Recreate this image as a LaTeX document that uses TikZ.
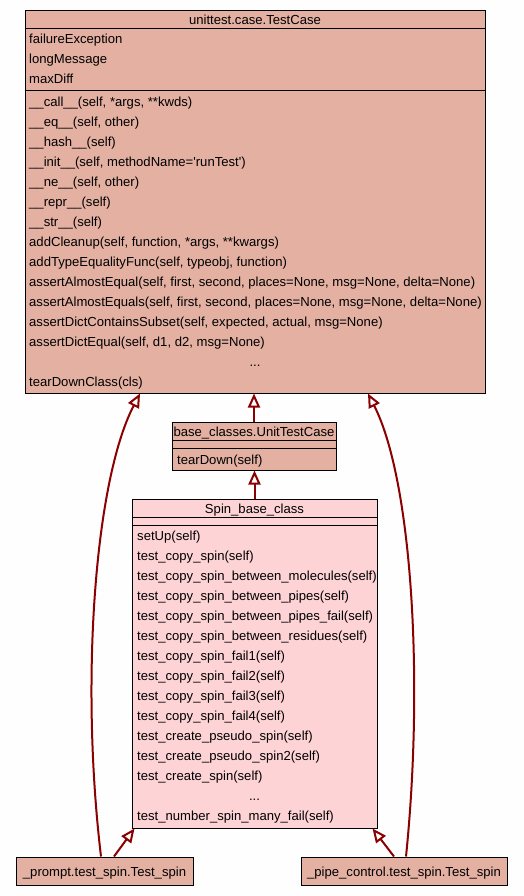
\documentclass[tikz,border=0pt]{standalone}
\usepackage{fontspec}
\newfontfamily\gv{Liberation Sans}
\usetikzlibrary{arrows.meta}
\definecolor{tcfill}{RGB}{227,176,162}
\definecolor{spinfill}{RGB}{253,211,214}
\definecolor{edgecol}{RGB}{139,0,0}
\definecolor{bg}{RGB}{253,254,253}
\begin{document}
\begin{tikzpicture}[x=1pt,y=-1pt,
  box/.style={draw=black, line width=1pt, inner sep=0pt, rectangle},
  txt/.style={anchor=base west, inner sep=0pt, font=\gv\fontsize{13.1}{15}\selectfont},
  ttl/.style={anchor=base, inner sep=0pt, font=\gv\fontsize{13.1}{15}\selectfont},
  sep/.style={draw=black, line width=1pt},
  inh/.style={draw=edgecol, line width=2pt, -{Triangle[open, length=14pt, width=12pt]}}]
\useasboundingbox[fill=bg] (0,0) rectangle (524,896);

% unittest.case.TestCase
\node[box, fill=tcfill, minimum width=460pt, minimum height=382pt] (tc) at (255,202) {};
\node[ttl] (tct) at (255,25) {unittest.case.TestCase};
\draw[sep] (tc.west |- 0,29) -- (tc.east |- 0,29);
\draw[sep] (tc.west |- 0,91) -- (tc.east |- 0,91);
\node[txt] (tca1) at (29,43.5) {failureException};
\node[txt] (tca2) at (29,63.5) {longMessage};
\node[txt] (tca3) at (29,83.5) {maxDiff};
\foreach \t [count=\i from 0] in {
  \_\_call\_\_(self{,} *args{,} **kwds),
  \_\_eq\_\_(self{,} other),
  \_\_hash\_\_(self),
  \_\_init\_\_(self{,} methodName='runTest'),
  \_\_ne\_\_(self{,} other),
  \_\_repr\_\_(self),
  \_\_str\_\_(self),
  addCleanup(self{,} function{,} *args{,} **kwargs),
  addTypeEqualityFunc(self{,} typeobj{,} function),
  assertAlmostEqual(self{,} first{,} second{,} places=None{,} msg=None{,} delta=None),
  assertAlmostEquals(self{,} first{,} second{,} places=None{,} msg=None{,} delta=None),
  assertDictContainsSubset(self{,} expected{,} actual{,} msg=None),
  assertDictEqual(self{,} d1{,} d2{,} msg=None)}
  \node[txt] (tcm\i) at (29,106.5+20*\i) {\t};
\node[ttl] (tcdots) at (255,366.5) {...};
\node[txt] (tclast) at (29,386.5) {tearDownClass(cls)};

% base_classes.UnitTestCase
\node[box, fill=tcfill, minimum width=164pt, minimum height=48pt] (utc) at (254,446) {};
\node[ttl] (utct) at (254,436) {base\_classes.UnitTestCase};
\draw[sep] (utc.west |- 0,440) -- (utc.east |- 0,440);
\draw[sep] (utc.west |- 0,448) -- (utc.east |- 0,448);
\node[txt] (utcm) at (177,464.5) {tearDown(self)};

% Spin_base_class
\node[box, fill=spinfill, minimum width=245pt, minimum height=329pt] (spin) at (254.5,663.5) {};
\node[ttl] (spint) at (254.5,513) {Spin\_base\_class};
\draw[sep] (spin.west |- 0,517) -- (spin.east |- 0,517);
\draw[sep] (spin.west |- 0,525) -- (spin.east |- 0,525);
\foreach \t [count=\i from 0] in {
  setUp(self),
  test\_copy\_spin(self),
  test\_copy\_spin\_between\_molecules(self),
  test\_copy\_spin\_between\_pipes(self),
  test\_copy\_spin\_between\_pipes\_fail(self),
  test\_copy\_spin\_between\_residues(self),
  test\_copy\_spin\_fail1(self),
  test\_copy\_spin\_fail2(self),
  test\_copy\_spin\_fail3(self),
  test\_copy\_spin\_fail4(self),
  test\_create\_pseudo\_spin(self),
  test\_create\_pseudo\_spin2(self),
  test\_create\_spin(self)}
  \node[txt] (spm\i) at (137,540.5+20*\i) {\t};
\node[ttl] (spdots) at (254.5,800.5) {...};
\node[txt] (splast) at (137,820.5) {test\_number\_spin\_many\_fail(self)};

% bottom classes
\node[box, fill=tcfill, minimum width=177pt, minimum height=28pt] (prompt) at (104.5,871) {};
\node[ttl] (promptt) at (104.5,876) {\_prompt.test\_spin.Test\_spin};
\node[box, fill=tcfill, minimum width=206pt, minimum height=28pt] (pipe) at (404,871) {};
\node[ttl] (pipet) at (404,876) {\_pipe\_control.test\_spin.Test\_spin};

% inheritance edges
\draw[inh] (utc.north) -- (utc.north |- tc.south);
\draw[inh] (spin.north) -- (spin.north |- utc.south);
\draw[inh] ([xshift=9.5pt]prompt.north) -- ([xshift=3pt]spin.south west);
\draw[inh] ([xshift=-10pt]pipe.north) -- ([xshift=-5pt]spin.south east);
\draw[inh] ([xshift=-3.5pt]prompt.north) .. controls (80,680) and (95,480) .. ([xshift=-115pt]tc.south);
\draw[inh] ([xshift=2pt]pipe.north) .. controls (424,680) and (412,480) .. ([xshift=113pt]tc.south);
\end{tikzpicture}
\end{document}
